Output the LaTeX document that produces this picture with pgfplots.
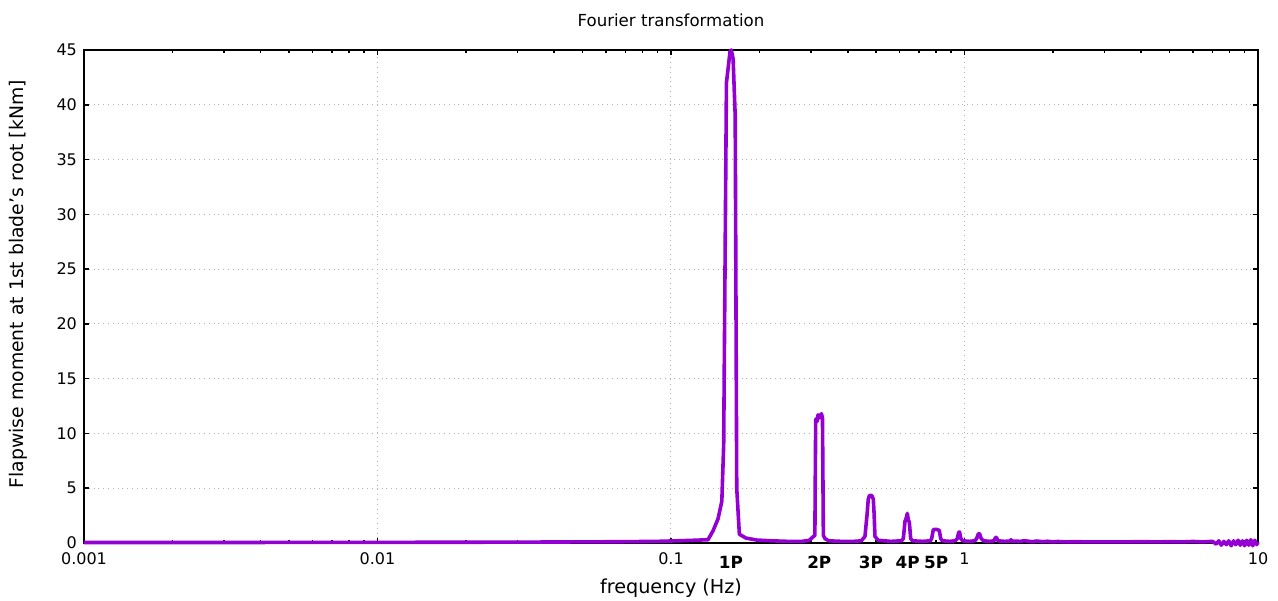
\documentclass[border=0pt]{standalone}
\usepackage{fontspec}
\setmainfont{DejaVu Sans}
\usepackage{pgfplots}
\pgfplotsset{compat=1.18}
\definecolor{fftline}{RGB}{148,0,211}

\begin{document}
\begin{tikzpicture}
\begin{axis}[
  scale only axis,
  width=587pt, height=246.5pt,
  xmode=log,
  xmin=0.001, xmax=10,
  ymin=0, ymax=45,
  clip=false,
  xtick={0.001,0.01,0.1,1,10},
  xticklabels={0.001,0.01,0.1,1,10},
  minor xtick={0.002,0.003,0.004,0.005,0.006,0.007,0.008,0.009,
               0.02,0.03,0.04,0.05,0.06,0.07,0.08,0.09,
               0.2,0.3,0.4,0.5,0.6,0.7,0.8,0.9,
               2,3,4,5,6,7,8,9},
  ytick={0,5,...,45},
  extra x ticks={0.16,0.32,0.48,0.64,0.8},
  extra x tick labels={1P,2P,3P,4P,5P},
  extra x tick style={grid=none, major tick length=0pt,
    tick label style={font=\fontsize{8.4}{9}\selectfont\bfseries, yshift=-1.5pt}},
  /pgf/number format/assume math mode=true,
  tick align=inside,
  major tick length=2.5pt,
  minor tick length=1.6pt,
  every tick/.style={black, line width=0.8pt},
  axis line style={black, line width=1pt},
  grid=major,
  major grid style={dotted, gray!60, line width=0.5pt},
  tick label style={font=\fontsize{8}{9}\selectfont},
  xticklabel style={yshift=-1.5pt},
  every axis title/.style={at={(axis description cs:0.5,1)}, anchor=center, yshift=15pt,
    font=\fontsize{8.3}{10}\selectfont},
  title={Fourier transformation},
  every axis x label/.style={at={(axis description cs:0.5,0)}, anchor=center, yshift=-22.5pt,
    font=\fontsize{9.6}{11}\selectfont},
  xlabel={frequency (Hz)},
  every axis y label/.style={at={(axis description cs:-0.0562,0.525)}, anchor=center, rotate=90,
    font=\fontsize{9.4}{11}\selectfont},
  ylabel={Flapwise moment at 1st blade's root [kNm]},
]
\addplot[fftline, line width=1.8pt, line join=round] coordinates {
  (0.001,0.05)(0.002,0.05)(0.004,0.05)(0.007,0.06)(0.01,0.06)(0.02,0.07)
  (0.03,0.08)(0.05,0.1)(0.07,0.12)(0.09,0.15)(0.105,0.2)(0.12,0.25)
  (0.1337,0.3)(0.139,1.1)(0.1446,2.2)(0.149,3.8)(0.1512,9)(0.1545,42)
  (0.159,44.9)(0.1605,45)(0.1628,44.2)(0.1655,39)(0.1675,5)(0.171,0.8)
  (0.180,0.45)(0.196,0.27)(0.22,0.2)(0.25,0.15)(0.28,0.15)(0.296,0.25)
  (0.3015,0.45)(0.3092,0.7)(0.3112,11.3)(0.3145,11.1)(0.317,11.7)(0.3195,11.4)
  (0.322,11.6)(0.3255,11.8)(0.3282,11.4)(0.3305,0.7)(0.3347,0.4)(0.345,0.2)
  (0.38,0.15)(0.42,0.15)(0.445,0.2)(0.458,0.6)(0.466,2.7)(0.470,4.0)
  (0.474,4.3)(0.479,4.35)(0.484,4.3)(0.489,4.0)(0.492,2.7)(0.4954,0.6)
  (0.508,0.25)(0.56,0.15)(0.610,0.2)(0.6188,0.4)(0.6272,2.0)(0.632,2.2)
  (0.6386,2.7)(0.6436,2.1)(0.6486,1.9)(0.6557,0.4)(0.665,0.2)(0.72,0.15)
  (0.765,0.2)(0.773,0.4)(0.7828,1.2)(0.792,1.25)(0.8014,1.25)(0.811,1.2)
  (0.8205,1.15)(0.8296,0.4)(0.84,0.2)(0.89,0.15)(0.93,0.2)(0.945,0.4)
  (0.955,0.95)(0.962,1.0)(0.972,0.4)(0.985,0.2)(1.04,0.15)(1.085,0.2)
  (1.10,0.4)(1.115,0.85)(1.125,0.85)(1.14,0.4)(1.16,0.2)(1.22,0.15)
  (1.26,0.2)(1.275,0.5)(1.285,0.5)(1.30,0.2)(1.37,0.15)(1.43,0.18)
  (1.44,0.3)(1.45,0.18)(1.55,0.15)(1.59,0.2)(1.60,0.25)(1.61,0.2)
  (1.70,0.12)(1.76,0.18)(1.85,0.12)(1.92,0.16)(2.0,0.1)(2.08,0.14)
  (2.2,0.1)(2.4,0.12)(2.6,0.1)(3.0,0.1)(3.5,0.1)(4.0,0.12)(4.5,0.1)
  (5.0,0.12)(5.5,0.1)(6.0,0.14)(6.5,0.1)(7.0,0.15)(7.2,-0.1)(7.35,0.2)
  (7.5,-0.2)(7.65,0.15)(7.8,-0.15)(7.95,0.2)(8.1,-0.25)(8.25,0.2)(8.4,-0.15)
  (8.55,0.25)(8.7,-0.2)(8.85,0.2)(9.0,-0.25)(9.15,0.25)(9.3,-0.2)(9.45,0.3)
  (9.6,-0.25)(9.75,0.25)(9.9,-0.15)(10,0.1)
};
\coordinate (sw) at (rel axis cs:0,0);
\coordinate (ne) at (rel axis cs:1,1);
\end{axis}
\path[shift={(sw)}] (-42pt,-28.5pt) coordinate (bl);
\path[shift={(ne)}] (10pt,25pt) coordinate (tr);
\pgfresetboundingbox
\path (bl) rectangle (tr);
\end{tikzpicture}
\end{document}
